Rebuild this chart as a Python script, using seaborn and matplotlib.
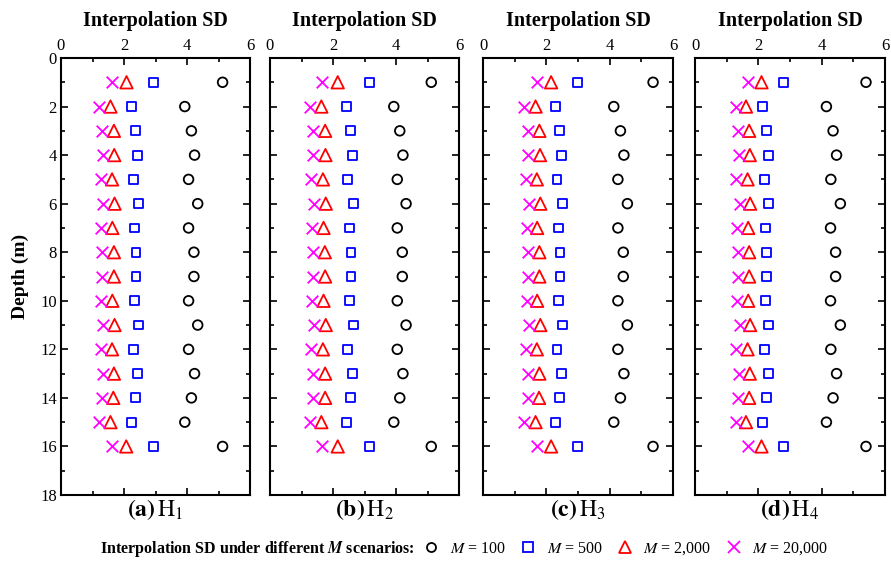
import matplotlib
matplotlib.use("Agg")
import matplotlib.pyplot as plt
from matplotlib.lines import Line2D
from matplotlib.ticker import MultipleLocator
import seaborn as sns
import pandas as pd

# Depth of each interpolation point (m)
depth = [1, 2, 3, 4, 5, 6, 7, 8, 9, 10, 11, 12, 13, 14, 15, 16]

panel_tags = ["a", "b", "c", "d"]
panel_sub = ["1", "2", "3", "4"]

# Interpolation SD for each horizon H1..H4 under the four M scenarios
h1_m100 = [5.13, 3.93, 4.14, 4.24, 4.05, 4.34, 4.05, 4.22, 4.22, 4.05, 4.34, 4.05, 4.24, 4.14, 3.93, 5.13]
h1_m500 = [2.94, 2.24, 2.37, 2.42, 2.29, 2.45, 2.33, 2.38, 2.38, 2.33, 2.45, 2.29, 2.42, 2.37, 2.23, 2.93]
h1_m2000 = [2.08, 1.57, 1.68, 1.69, 1.62, 1.70, 1.63, 1.68, 1.68, 1.63, 1.70, 1.62, 1.68, 1.66, 1.57, 2.07]
h1_m20000 = [1.62, 1.22, 1.30, 1.33, 1.26, 1.33, 1.27, 1.30, 1.30, 1.27, 1.33, 1.26, 1.32, 1.30, 1.22, 1.62]

h2_m100 = [5.12, 3.93, 4.12, 4.22, 4.04, 4.32, 4.04, 4.20, 4.20, 4.04, 4.32, 4.04, 4.22, 4.12, 3.93, 5.12]
h2_m500 = [3.16, 2.43, 2.56, 2.62, 2.47, 2.65, 2.53, 2.57, 2.57, 2.53, 2.65, 2.46, 2.61, 2.56, 2.42, 3.16]
h2_m2000 = [2.15, 1.63, 1.75, 1.76, 1.68, 1.77, 1.70, 1.74, 1.75, 1.70, 1.77, 1.68, 1.75, 1.75, 1.63, 2.15]
h2_m20000 = [1.66, 1.26, 1.36, 1.38, 1.30, 1.39, 1.33, 1.37, 1.37, 1.33, 1.39, 1.30, 1.37, 1.35, 1.26, 1.66]

h3_m100 = [5.37, 4.13, 4.34, 4.45, 4.26, 4.56, 4.26, 4.43, 4.43, 4.26, 4.56, 4.26, 4.45, 4.34, 4.13, 5.37]
h3_m500 = [2.98, 2.29, 2.42, 2.47, 2.34, 2.50, 2.38, 2.43, 2.43, 2.38, 2.50, 2.34, 2.47, 2.42, 2.29, 2.98]
h3_m2000 = [2.15, 1.66, 1.78, 1.80, 1.70, 1.81, 1.71, 1.78, 1.78, 1.71, 1.81, 1.70, 1.78, 1.77, 1.66, 2.15]
h3_m20000 = [1.71, 1.31, 1.41, 1.43, 1.36, 1.44, 1.38, 1.41, 1.41, 1.38, 1.44, 1.36, 1.43, 1.41, 1.31, 1.71]

h4_m100 = [5.40, 4.15, 4.36, 4.47, 4.29, 4.59, 4.28, 4.44, 4.44, 4.28, 4.59, 4.29, 4.47, 4.36, 4.15, 5.40]
h4_m500 = [2.79, 2.14, 2.25, 2.31, 2.19, 2.33, 2.22, 2.26, 2.26, 2.22, 2.33, 2.19, 2.31, 2.25, 2.14, 2.79]
h4_m2000 = [2.10, 1.61, 1.71, 1.73, 1.66, 1.74, 1.68, 1.71, 1.71, 1.68, 1.74, 1.66, 1.73, 1.71, 1.61, 2.10]
h4_m20000 = [1.68, 1.28, 1.36, 1.38, 1.31, 1.41, 1.34, 1.37, 1.37, 1.34, 1.41, 1.31, 1.38, 1.36, 1.28, 1.68]

scenario_labels = ["100", "500", "2,000", "20,000"]

panels = [
    [h1_m100, h1_m500, h1_m2000, h1_m20000],
    [h2_m100, h2_m500, h2_m2000, h2_m20000],
    [h3_m100, h3_m500, h3_m2000, h3_m20000],
    [h4_m100, h4_m500, h4_m2000, h4_m20000],
]

# marker, colour, size (pt^2) for each scenario
styles = [
    ("o", "black", 48),
    ("s", "#0000ff", 40),
    ("^", "#ff0000", 80),
    ("x", "#ff00ff", 70),
]

sns.set_theme(style="white")
plt.rcParams["font.family"] = ["Liberation Serif", "DejaVu Serif"]
plt.rcParams["mathtext.fontset"] = "stix"
for key in ("text.color", "axes.labelcolor", "xtick.color", "ytick.color", "axes.edgecolor"):
    plt.rcParams[key] = "black"

fig = plt.figure(figsize=(8.91, 5.61), dpi=100)
W, H = 891.0, 561.0
lefts = [61, 270, 483, 695]
widths = [189, 189, 190, 190]
top_px, bot_px = 58, 495

for i, series in enumerate(panels):
    ax = fig.add_axes([lefts[i] / W, 1 - bot_px / H, widths[i] / W, (bot_px - top_px) / H])
    for vals, (mk, col, sz) in zip(series, styles):
        df = pd.DataFrame({"sd": vals, "depth": depth})
        if mk == "x":
            sns.scatterplot(data=df, x="sd", y="depth", ax=ax, marker="x",
                            color=col, s=sz, linewidth=1.3, legend=False, zorder=3)
        else:
            sns.scatterplot(data=df, x="sd", y="depth", ax=ax, marker=mk,
                            facecolor="none", edgecolor=col, s=sz, linewidth=1.3,
                            legend=False, zorder=3)
    ax.set_xlim(0, 6)
    ax.set_ylim(18, 0)
    ax.xaxis.set_major_locator(MultipleLocator(2))
    ax.xaxis.set_minor_locator(MultipleLocator(1))
    ax.yaxis.set_major_locator(MultipleLocator(2))
    ax.yaxis.set_minor_locator(MultipleLocator(1))
    ax.tick_params(which="both", direction="in", top=True, bottom=True,
                   left=True, right=True, labeltop=True, labelbottom=False,
                   labelleft=(i == 0), labelright=False, labelsize=12,
                   color="black", labelcolor="black", width=1.2, pad=3)
    ax.tick_params(which="major", length=5)
    ax.tick_params(which="minor", length=3)
    for sp in ax.spines.values():
        sp.set_color("black")
        sp.set_linewidth(1.5)
    ax.set_xlabel("")
    ax.set_ylabel("")
    ax.set_title("Interpolation SD", fontsize=14.5, fontweight="bold", pad=23, color="black")
    ax.text(0.5, -0.006, r"$\mathbf{(%s)}\,\mathrm{H}_{%s}$" % (panel_tags[i], panel_sub[i]),
            transform=ax.transAxes, ha="center", va="top", fontsize=17, color="black")
    if i == 0:
        ax.set_ylabel("Depth (m)", fontsize=14, fontweight="bold", labelpad=8, color="black")

# Legend row
prefix = fig.text(100 / W, 1 - 549 / H, r"Interpolation SD under different $\boldsymbol{M}$ scenarios:",
                  ha="left", va="center", fontsize=11.5, fontweight="bold", color="black")
handles = [Line2D([], [], linestyle="none", marker=mk, markersize=(8 if mk in "^x" else 6.5),
                  markerfacecolor="none", markeredgecolor=col, markeredgewidth=1.3)
           for mk, col, _ in styles]
labels = [r"$M$ = %s" % s for s in scenario_labels]
fig.canvas.draw()
bb = prefix.get_window_extent()
x_end = bb.x1 / fig.bbox.width
leg = fig.legend(handles, labels, loc="center left", bbox_to_anchor=(x_end + 0.008, 1 - 549 / H),
                 ncol=4, frameon=False, fontsize=11.5, handlelength=1.2,
                 handletextpad=0.55, columnspacing=0.8, borderpad=0, borderaxespad=0)
for t in leg.get_texts():
    t.set_color("black")

fig.savefig("out.png", dpi=100)
